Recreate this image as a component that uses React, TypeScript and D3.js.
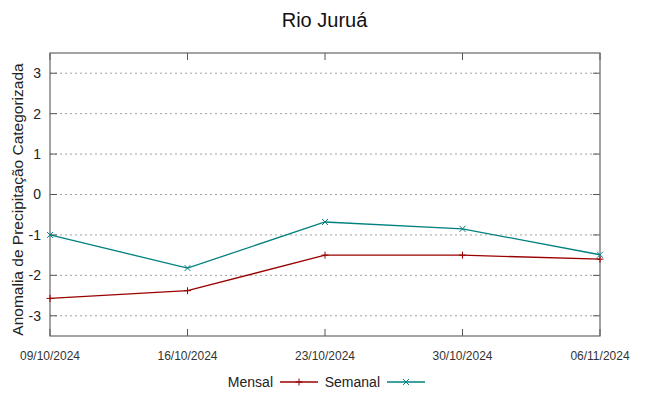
import React from "react";
import * as d3 from "d3";

const dates = ["09/10/2024", "16/10/2024", "23/10/2024", "30/10/2024", "06/11/2024"];
const mensal = [-2.57, -2.38, -1.5, -1.5, -1.6];
const semanal = [-1.0, -1.82, -0.68, -0.85, -1.49];
const yTicks = [-3, -2, -1, 0, 1, 2, 3];

const parse = d3.timeParse("%d/%m/%Y");

export default function App() {
  const width = 649;
  const height = 396;
  const margin = { top: 53, right: 49, bottom: 60, left: 50 };
  const font = "'Liberation Sans', Arial, sans-serif";

  const x = d3
    .scaleTime()
    .domain([parse(dates[0])!, parse(dates[dates.length - 1])!])
    .range([margin.left, width - margin.right]);
  const y = d3
    .scaleLinear()
    .domain([-3.5, 3.5])
    .range([height - margin.bottom, margin.top]);

  const line = d3
    .line<number>()
    .x((_, i) => x(parse(dates[i])!))
    .y((d) => y(d));

  const series = [
    { name: "Mensal", values: mensal, color: "#9b0000", marker: "plus" },
    { name: "Semanal", values: semanal, color: "#008080", marker: "cross" },
  ];

  const marker = (type: string, cx: number, cy: number, color: string, key: string) => {
    const s = type === "plus" ? 3.5 : 3;
    const d =
      type === "plus"
        ? `M${cx - s},${cy}H${cx + s}M${cx},${cy - s}V${cy + s}`
        : `M${cx - s},${cy - s}L${cx + s},${cy + s}M${cx - s},${cy + s}L${cx + s},${cy - s}`;
    return <path key={key} d={d} stroke={color} strokeWidth={1} fill="none" />;
  };

  const x0 = margin.left;
  const x1 = width - margin.right;
  const y0 = height - margin.bottom;
  const y1 = margin.top;

  return (
    <svg width={width} height={height} style={{ position: "absolute", left: 0, top: 0, background: "#fff" }}>
      <text x={width / 2} y={27} textAnchor="middle" fontFamily={font} fontSize={20} fill="#111">
        Rio Juruá
      </text>

      {/* grid */}
      {yTicks.map((t) => (
        <line
          key={`g${t}`}
          x1={x0}
          x2={x1}
          y1={y(t)}
          y2={y(t)}
          stroke="#a0a0a0"
          strokeWidth={1}
          strokeDasharray="2,3"
        />
      ))}

      {/* y ticks */}
      {yTicks.map((t) => (
        <g key={`y${t}`}>
          <line x1={x0} x2={x0 + 7} y1={y(t)} y2={y(t)} stroke="#555" />
          <line x1={x1} x2={x1 - 7} y1={y(t)} y2={y(t)} stroke="#555" />
          <text x={x0 - 9} y={y(t)} dy="0.35em" textAnchor="end" fontFamily={font} fontSize={14} fill="#222">
            {t}
          </text>
        </g>
      ))}

      {/* x ticks */}
      {dates.map((d) => {
        const px = x(parse(d)!);
        return (
          <g key={d}>
            <line x1={px} x2={px} y1={y0} y2={y0 - 7} stroke="#555" />
            <line x1={px} x2={px} y1={y1} y2={y1 + 7} stroke="#555" />
            <text x={px} y={y0 + 24} textAnchor="middle" fontFamily={font} fontSize={12} fill="#333">
              {d}
            </text>
          </g>
        );
      })}

      <rect x={x0} y={y1} width={x1 - x0} height={y0 - y1} fill="none" stroke="#666" strokeWidth={1.2} />

      <text
        transform={`translate(23, ${(y0 + y1) / 2 + 5}) rotate(-90)`}
        textAnchor="middle"
        fontFamily={font}
        fontSize={15.5}
        fill="#222"
      >
        Anomalia de Precipitação Categorizada
      </text>

      {series.map((s) => (
        <g key={s.name}>
          <path d={line(s.values) || ""} fill="none" stroke={s.color} strokeWidth={1.3} />
          {s.values.map((v, i) => marker(s.marker, x(parse(dates[i])!), y(v), s.color, `${s.name}${i}`))}
        </g>
      ))}

      {/* legend */}
      {series.map((s, i) => {
        const textEnd = i === 0 ? 273 : 380;
        const ly = 382;
        return (
          <g key={`l${s.name}`}>
            <text x={textEnd} y={ly} dy="0.35em" textAnchor="end" fontFamily={font} fontSize={14} fill="#222">
              {s.name}
            </text>
            <line x1={textEnd + 7} x2={textEnd + 45} y1={ly} y2={ly} stroke={s.color} strokeWidth={1.3} />
            {marker(s.marker, textEnd + 26, ly, s.color, `lm${i}`)}
          </g>
        );
      })}
    </svg>
  );
}
